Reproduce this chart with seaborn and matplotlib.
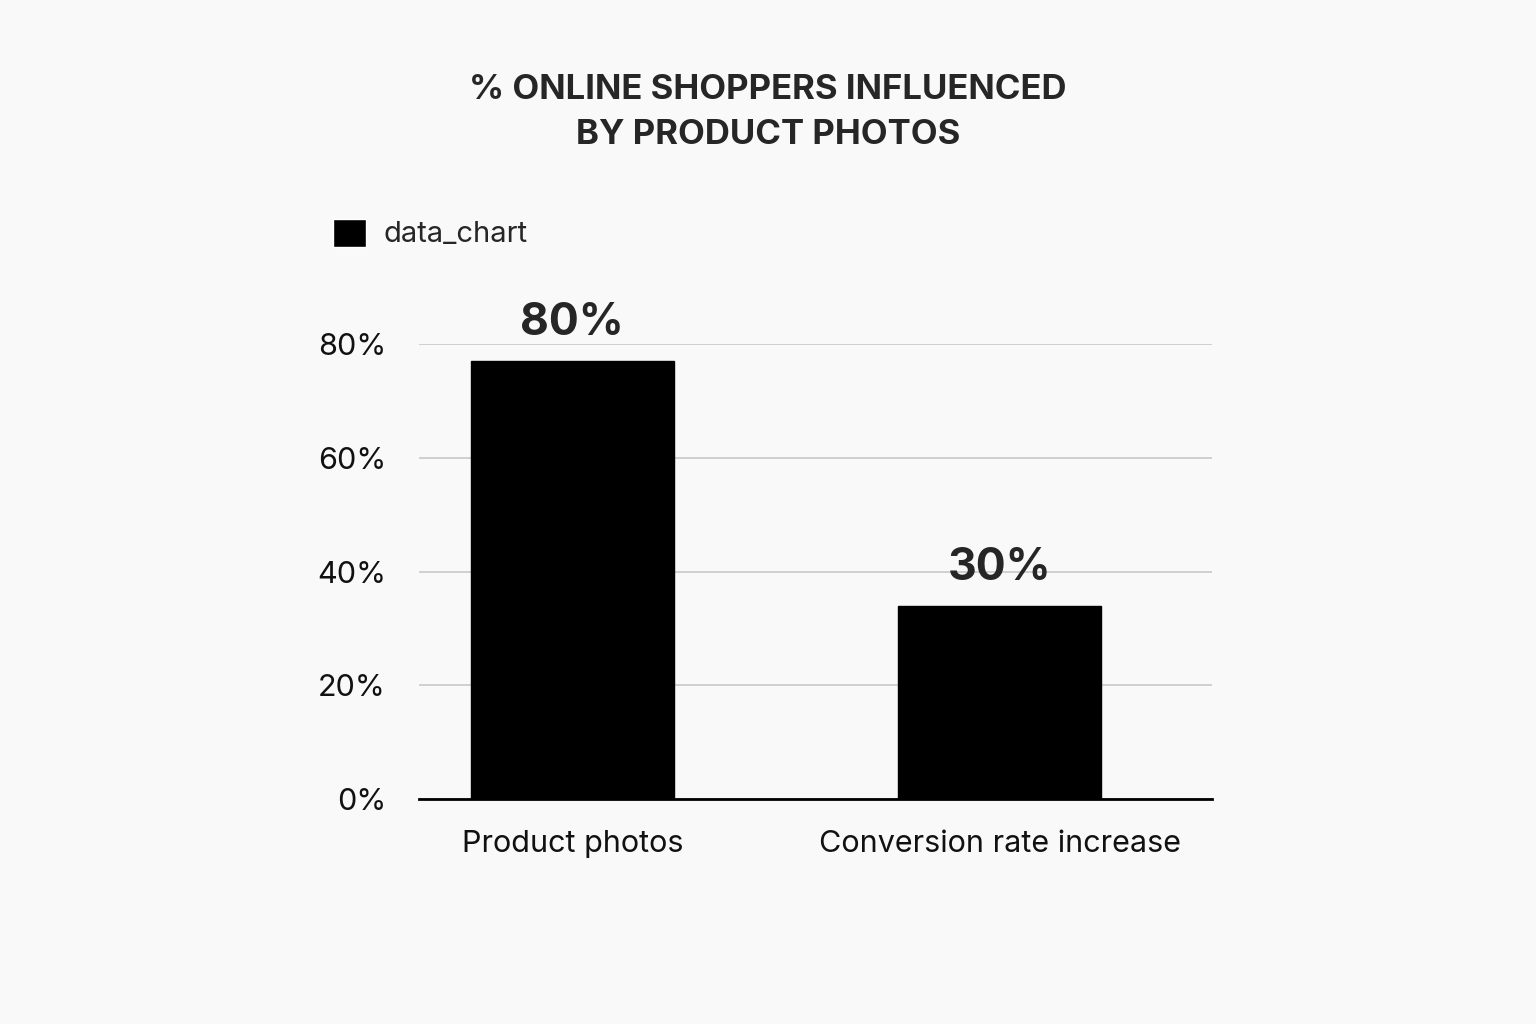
import matplotlib
matplotlib.use("Agg")
import matplotlib.pyplot as plt
import seaborn as sns
import pandas as pd
from matplotlib.patches import FancyBboxPatch, Patch

categories = ["Product photos", "Conversion rate increase"]
values = [77, 34]  # bar heights as drawn
value_labels = ["80%", "30%"]
y_ticks = [0, 20, 40, 60, 80]

sns.set_theme(style="white")
plt.rcParams['font.family'] = ['Inter', 'DejaVu Sans']

df = pd.DataFrame({"category": categories, "value": values})

fig = plt.figure(figsize=(15.36, 10.24), dpi=100, facecolor="#f9f9f9")
ax = fig.add_axes([0.273, 0.2197, 0.516, 0.444], facecolor="#f9f9f9")

sns.barplot(data=df, x="category", y="value", color="black", width=0.475, ax=ax, zorder=3)
for p in ax.patches:
    p.set_edgecolor("black")

ax.set_ylim(0, 80)
ax.set_xlim(-0.358, 1.497)
ax.set_yticks(y_ticks)
ax.set_yticklabels([f"{t}%" for t in y_ticks])
ax.yaxis.grid(True, color="#c8c8c8", linewidth=1.2, zorder=0)
ax.set_axisbelow(True)
for s in ["top", "right", "left"]:
    ax.spines[s].set_visible(False)
ax.spines["bottom"].set_color("black")
ax.spines["bottom"].set_linewidth(2)
ax.tick_params(axis="both", length=0, labelsize=22, colors="#111111")
ax.tick_params(axis="x", pad=22)
ax.tick_params(axis="y", pad=24)
ax.set_xlabel("")
ax.set_ylabel("")

for i, (v, lab) in enumerate(zip(values, value_labels)):
    ax.text(i, v + 3, lab, ha="center", va="bottom", fontsize=32,
            fontweight="bold", clip_on=False)

fig.text(0.5, 0.89, "% ONLINE SHOPPERS INFLUENCED\nBY PRODUCT PHOTOS", ha="center",
         va="center", fontsize=25, fontweight="bold", linespacing=1.5)

leg = fig.legend(handles=[Patch(facecolor="black", label="data_chart")],
                 loc="center left", bbox_to_anchor=(0.2, 0.772), frameon=False,
                 fontsize=21, handlelength=1.1, handleheight=1.1, handletextpad=0.6)

fig.savefig("out.png", dpi=100, facecolor=fig.get_facecolor())
